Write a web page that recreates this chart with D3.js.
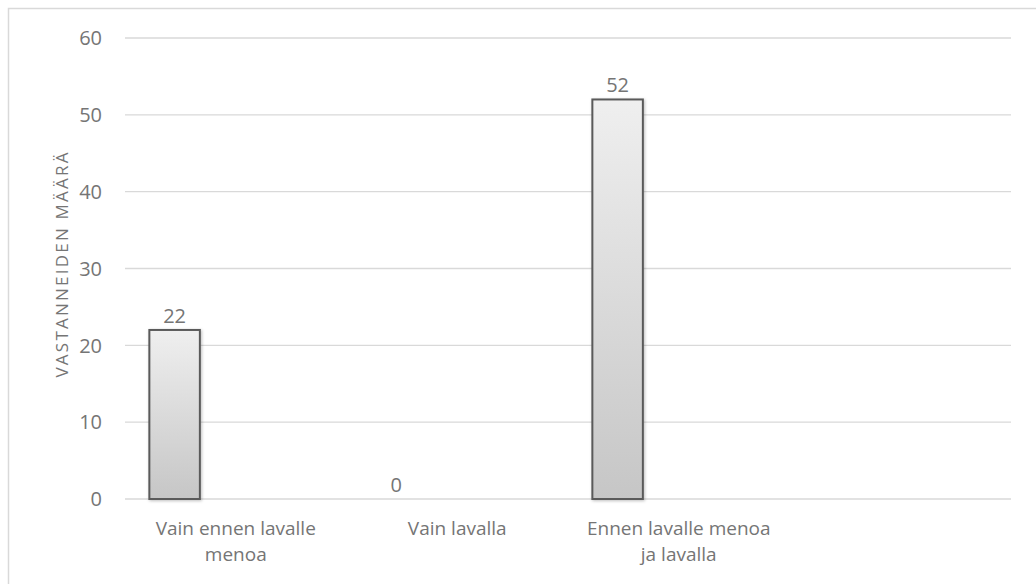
<!DOCTYPE html>
<html>
<head>
<meta charset="utf-8">
<script src="https://cdnjs.cloudflare.com/ajax/libs/d3/7.8.5/d3.min.js"></script>
<style>
  body { margin: 0; background: #fff; }
  text { font-family: "Open Sans", sans-serif; fill: #757575; }
</style>
</head>
<body>
<script>
// data
var categories = [["Vain ennen lavalle", "menoa"], ["Vain lavalla"], ["Ennen lavalle menoa", "ja lavalla"], [""]];
var values = [22, 0, 52, null];
var yTicks = [0, 10, 20, 30, 40, 50, 60];
var yTitle = "VASTANNEIDEN MÄÄRÄ";

var W = 1036, H = 584;
var mLeft = 125, mRight = 1011, mTop = 38, mBottom = 499;

var svg = d3.select("body").append("svg").attr("width", W).attr("height", H);

var defs = svg.append("defs");
var grad = defs.append("linearGradient").attr("id", "barGrad")
  .attr("x1", 0).attr("y1", 0).attr("x2", 0).attr("y2", 1);
grad.append("stop").attr("offset", "0%").attr("stop-color", "#efefef");
grad.append("stop").attr("offset", "100%").attr("stop-color", "#c6c6c6");
var sh = defs.append("filter").attr("id", "shadow").attr("x", "-20%").attr("y", "-5%").attr("width", "140%").attr("height", "110%");
sh.append("feDropShadow").attr("dx", 1).attr("dy", 1).attr("stdDeviation", 1.5).attr("flood-color", "#000").attr("flood-opacity", 0.25);

// outer frame (only top and left visible)
svg.append("rect").attr("x", 8.5).attr("y", 8.5).attr("width", 1100).attr("height", 700)
  .attr("fill", "none").attr("stroke", "#d9d9d9").attr("stroke-width", 1.5);

var x = d3.scaleBand().domain(d3.range(categories.length)).range([mLeft, mRight]);
var y = d3.scaleLinear().domain([0, 60]).range([mBottom, mTop]);

// gridlines
svg.append("g").selectAll("line").data(yTicks).enter().append("line")
  .attr("x1", mLeft).attr("x2", mRight)
  .attr("y1", function(d){ return y(d); }).attr("y2", function(d){ return y(d); })
  .attr("stroke", "#d9d9d9").attr("stroke-width", 1.3);

// y tick labels
svg.append("g").selectAll("text").data(yTicks).enter().append("text")
  .attr("x", mLeft - 23).attr("y", function(d){ return y(d); })
  .attr("dy", "0.36em").attr("text-anchor", "end")
  .style("font-size", "20px")
  .text(function(d){ return d; });

// axis title
svg.append("text")
  .attr("transform", "translate(" + 68 + "," + 265 + ") rotate(-90)")
  .attr("text-anchor", "middle")
  .attr("textLength", 225).attr("lengthAdjust", "spacing")
  .style("font-size", "17px")
  .text(yTitle);

// bars: first series slot in each category
var bw = x.bandwidth();
function barX(i){ return x(i) + bw * 0.11; }
var barW = bw * 0.228;

var barData = values.map(function(v, i){ return {v: v, i: i}; }).filter(function(d){ return d.v !== null; });

svg.append("g").selectAll("rect").data(barData.filter(function(d){ return d.v > 0; })).enter().append("rect")
  .attr("x", function(d){ return barX(d.i); })
  .attr("y", function(d){ return y(d.v); })
  .attr("width", barW)
  .attr("height", function(d){ return y(0) - y(d.v); })
  .attr("fill", "url(#barGrad)")
  .attr("stroke", "#5a5a5a").attr("stroke-width", 2)
  .attr("filter", "url(#shadow)");

// value labels
svg.append("g").selectAll("text").data(barData).enter().append("text")
  .attr("x", function(d){ return barX(d.i) + barW / 2; })
  .attr("y", function(d){ return y(d.v) - 7; })
  .attr("text-anchor", "middle")
  .style("font-size", "20px")
  .text(function(d){ return d.v; });

// category labels, one text per line
var cat = svg.append("g").selectAll("g").data(categories).enter().append("g")
  .attr("transform", function(d, i){ return "translate(" + (x(i) + bw / 2) + "," + (mBottom + 36) + ")"; });
cat.selectAll("text").data(function(d){ return d; }).enter().append("text")
  .attr("y", function(d, i){ return i * 26; })
  .attr("text-anchor", "middle")
  .style("font-size", "19px")
  .text(function(d){ return d; });
</script>
</body>
</html>
